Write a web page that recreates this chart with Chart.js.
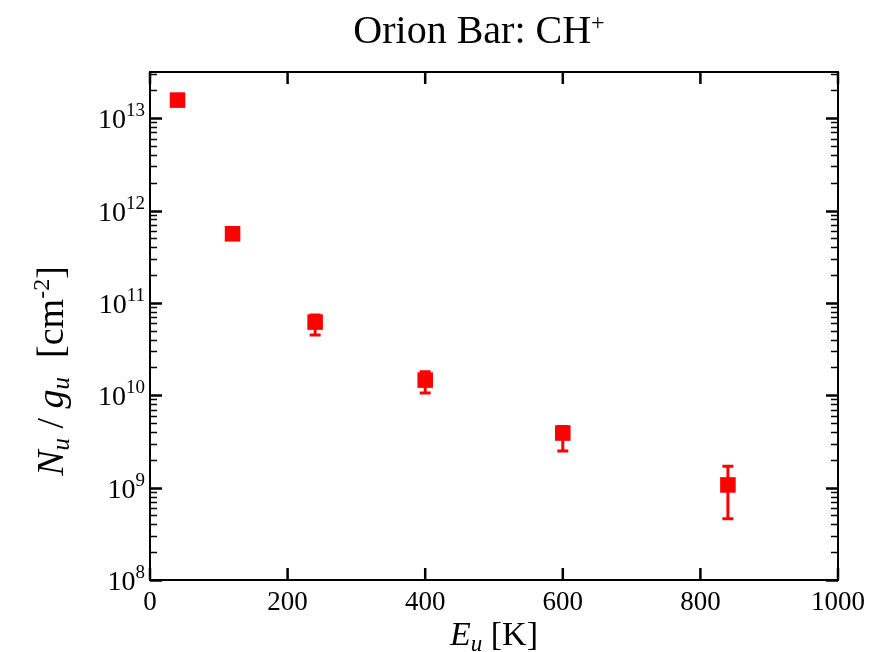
<!DOCTYPE html>
<html>
<head>
<meta charset="utf-8">
<script src="https://cdn.jsdelivr.net/npm/chart.js@4"></script>
<style>
  html, body { margin: 0; padding: 0; background: #fff; }
  #wrap { width: 895px; height: 652px; }
</style>
</head>
<body>
<div id="wrap"><canvas id="chart"></canvas></div>
<script>
// Orion Bar CH+ rotation diagram — upper-level energy vs column density per g

const energies = [40, 120, 240, 400, 600, 840];          // E_u [K]
const columns  = [1.57e13, 5.6e11, 6.2e10, 1.46e10, 3.9e9, 1.07e9];
const errLow   = [1.45e13, 5.2e11, 4.5e10, 1.06e10, 2.5e9, 4.6e8];
const errHigh  = [1.7e13, 6.1e11, 7.4e10, 1.8e10, 4.6e9, 1.7e9];
const xTicks   = [0, 200, 400, 600, 800, 1000];
const yExps    = [8, 9, 10, 11, 12, 13];

const SERIF = '"Liberation Serif", "DejaVu Serif", serif';

// ─── Rich text helper (italic / sub / superscript pieces) ────────

function drawRich(ctx, parts, x0, baseY, align = 'center') {
  let total = 0;
  parts.forEach((p) => {
    ctx.font = `${p.italic ? 'italic ' : ''}${p.size}px ${SERIF}`;
    p.w = ctx.measureText(p.t).width;
    total += p.w;
  });
  let x = align === 'right' ? x0 - total : x0 - total / 2;
  ctx.textAlign = 'left';
  ctx.textBaseline = 'alphabetic';
  parts.forEach((p) => {
    ctx.font = `${p.italic ? 'italic ' : ''}${p.size}px ${SERIF}`;
    ctx.fillText(p.t, x, baseY + (p.dy || 0));
    x += p.w;
  });
}

// ─── Error bars, frame, inward ticks, titles ─────────────────────

const errorBars = {
  id: 'errorBars',
  beforeDatasetsDraw(chart) {
    const { ctx, scales: { x, y } } = chart;
    ctx.save();
    ctx.strokeStyle = '#ff0000';
    ctx.lineWidth = 3;
    energies.forEach((e, i) => {
      const px = x.getPixelForValue(e);
      const lo = y.getPixelForValue(errLow[i]);
      const hi = y.getPixelForValue(errHigh[i]);
      ctx.beginPath();
      ctx.moveTo(px, lo); ctx.lineTo(px, hi);
      ctx.moveTo(px - 5.5, lo); ctx.lineTo(px + 5.5, lo);
      ctx.moveTo(px - 5.5, hi); ctx.lineTo(px + 5.5, hi);
      ctx.stroke();
    });
    ctx.restore();
  },
};

const frame = {
  id: 'frame',
  afterDraw(chart) {
    const { ctx, chartArea: a, scales: { x, y } } = chart;
    ctx.save();
    ctx.strokeStyle = '#000';

    // x majors, top and bottom
    ctx.lineWidth = 2.5;
    xTicks.forEach((v) => {
      const px = x.getPixelForValue(v);
      ctx.beginPath();
      ctx.moveTo(px, a.bottom); ctx.lineTo(px, a.bottom - 12);
      ctx.moveTo(px, a.top); ctx.lineTo(px, a.top + 12);
      ctx.stroke();
    });

    // y majors + log minors, left and right
    yExps.forEach((e) => {
      for (let m = 1; m <= 9; m++) {
        const v = m * Math.pow(10, e);
        if (v > y.max) break;
        const py = Math.round(y.getPixelForValue(v)) + 0.5;
        const len = m === 1 ? 12 : 7;
        ctx.lineWidth = m === 1 ? 2.5 : 1.5;
        ctx.beginPath();
        ctx.moveTo(a.left, py); ctx.lineTo(a.left + len, py);
        ctx.moveTo(a.right, py); ctx.lineTo(a.right - len, py);
        ctx.stroke();
      }
    });

    ctx.lineWidth = 2;
    ctx.strokeRect(a.left, a.top, a.right - a.left, a.bottom - a.top);

    ctx.fillStyle = '#000';

    // y tick labels: 10 with raised exponent
    yExps.forEach((e) => {
      const py = y.getPixelForValue(Math.pow(10, e));
      drawRich(ctx, [
        { t: '10', size: 28 },
        { t: String(e), size: 19, dy: -12 },
      ], 145, py + 10, 'right');
    });

    // titles
    drawRich(ctx, [
      { t: 'Orion Bar: CH', size: 40 },
      { t: '+', size: 24, dy: -13 },
    ], 479, 43);

    drawRich(ctx, [
      { t: 'E', size: 34, italic: true },
      { t: 'u', size: 23, italic: true, dy: 6 },
      { t: ' [K]', size: 34 },
    ], 494, 645);

    ctx.translate(63, 371);
    ctx.rotate(-Math.PI / 2);
    drawRich(ctx, [
      { t: 'N', size: 38, italic: true },
      { t: 'u', size: 25, italic: true, dy: 6 },
      { t: ' / ', size: 38 },
      { t: 'g', size: 38, italic: true },
      { t: 'u', size: 25, italic: true, dy: 6 },
      { t: '  [cm', size: 38 },
      { t: '-2', size: 24, dy: -14 },
      { t: ']', size: 38 },
    ], 0, 0);
    ctx.restore();
  },
};

// ─── Chart ───────────────────────────────────────────────────────

new Chart(document.getElementById('chart'), {
  type: 'scatter',
  data: {
    datasets: [{
      data: energies.map((e, i) => ({ x: e, y: columns[i] })),
      backgroundColor: '#ff0000',
      borderColor: '#ff0000',
      borderWidth: 0,
      pointStyle: 'rect',
      pointRadius: 11,
      pointHoverRadius: 11,
    }],
  },
  options: {
    responsive: true,
    maintainAspectRatio: false,
    animation: false,
    layout: { padding: { top: 72, right: 57, left: 0, bottom: 0 } },
    plugins: { legend: { display: false }, tooltip: { enabled: false } },
    scales: {
      x: {
        type: 'linear',
        min: 0,
        max: 1000,
        afterBuildTicks: (s) => { s.ticks = xTicks.map((v) => ({ value: v })); },
        afterFit: (s) => { s.height = 72; },
        grid: { display: false, drawTicks: false },
        border: { display: false },
        ticks: {
          color: '#000',
          padding: 7,
          maxRotation: 0,
          font: { family: SERIF, size: 27 },
          callback: (v) => String(v),
        },
      },
      y: {
        type: 'logarithmic',
        min: 1e8,
        max: Math.pow(10, 13.5),
        afterBuildTicks: (s) => { s.ticks = yExps.map((e) => ({ value: Math.pow(10, e), major: true })); },
        afterFit: (s) => { s.width = 150; },
        grid: { display: false, drawTicks: false },
        border: { display: false },
        ticks: { display: false },
      },
    },
  },
  plugins: [errorBars, frame],
});
</script>
</body>
</html>
